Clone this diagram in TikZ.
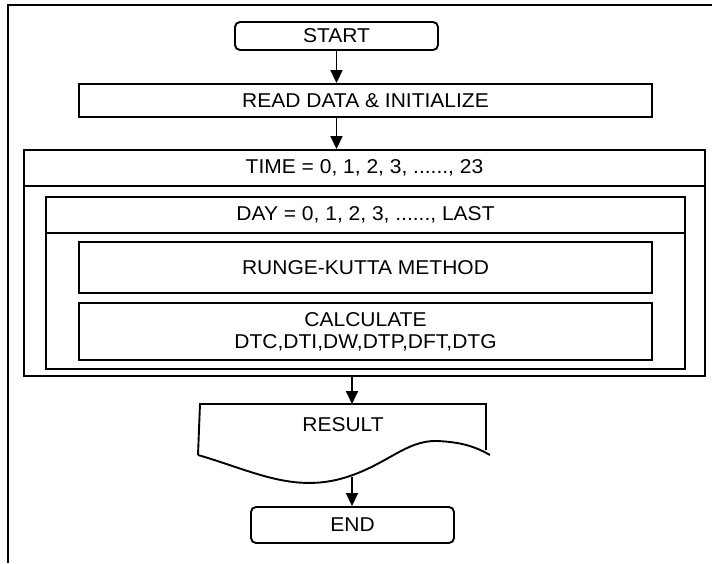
\documentclass[tikz,border=0pt]{standalone}
\usepackage{fontspec}
\setmainfont{Liberation Sans}[FakeStretch=1.05]
\usetikzlibrary{arrows.meta}
\tikzset{
  box/.style={draw, line width=1.9pt, inner sep=0pt, align=center},
  term/.style={box, rounded corners=5pt},
  arr/.style={-{Triangle[length=13pt,width=12pt]}, line width=1.7pt},
  frame/.style={line width=1.9pt},
  divider/.style={line width=1.9pt},
  lbl/.style={inner sep=0pt}
}
\begin{document}
\begin{tikzpicture}[x=1pt,y=-1pt,font=\fontsize{20}{22}\selectfont]
\useasboundingbox (0,0) rectangle (712,563);
% frame
\draw[frame] (712,5) -- (8,5) -- (8,563);
% start
\node[term, minimum width=203pt, minimum height=28pt] (start) at (336.5,36) {START};
\node[box, minimum width=573pt, minimum height=33pt] (read) at (365.5,100.5) {READ DATA \& INITIALIZE};
% time loop
\node[box, minimum width=681pt, minimum height=226pt] (time) at (364.5,263) {};
\coordinate (tdiv) at (0,186);
\draw[divider] (time.west |- tdiv) -- (time.east |- tdiv);
\node[lbl] (timelbl) at (364.5,168) {TIME = 0, 1, 2, 3, ......, 23};
% day loop
\node[box, minimum width=639pt, minimum height=172pt] (day) at (365.5,283) {};
\coordinate (ddiv) at (0,233);
\draw[divider] (day.west |- ddiv) -- (day.east |- ddiv);
\node[lbl] (daylbl) at (365.5,215) {DAY = 0, 1, 2, 3, ......, LAST};
% inner steps
\node[box, minimum width=573pt, minimum height=51pt] (rk) at (365.5,267.5) {RUNGE-KUTTA METHOD};
\node[box, minimum width=573pt, minimum height=57pt] (calc) at (365.5,331.5) {CALCULATE\\DTC,DTI,DW,DTP,DFT,DTG};
% result document
\coordinate (rtl) at (200,404);
\coordinate (rtr) at (486,404);
\coordinate (rtop) at (352,404);
\coordinate (wavebot) at (352,477);
\draw[divider] (198,455) -- (rtl) -- (rtr) -- (486,450);
\draw[divider] (198,455) .. controls (250,470) and (290,492) .. (340,479)
  .. controls (385,467) and (405,440) .. (437,441)
  .. controls (462,442) and (476,447) .. (490,455);
\node[lbl] (result) at (343,425) {RESULT};
% end
\node[term, minimum width=203pt, minimum height=36pt] (endn) at (352.5,525) {END};
% connectors
\draw[arr] (start.south) -- (read.north -| start.south);
\draw[arr] (read.south -| start.south) -- (time.north -| start.south);
\draw[arr] (time.south -| rtop) -- (rtop);
\draw[arr] (wavebot) -- (endn.north -| wavebot);
\end{tikzpicture}
\end{document}
